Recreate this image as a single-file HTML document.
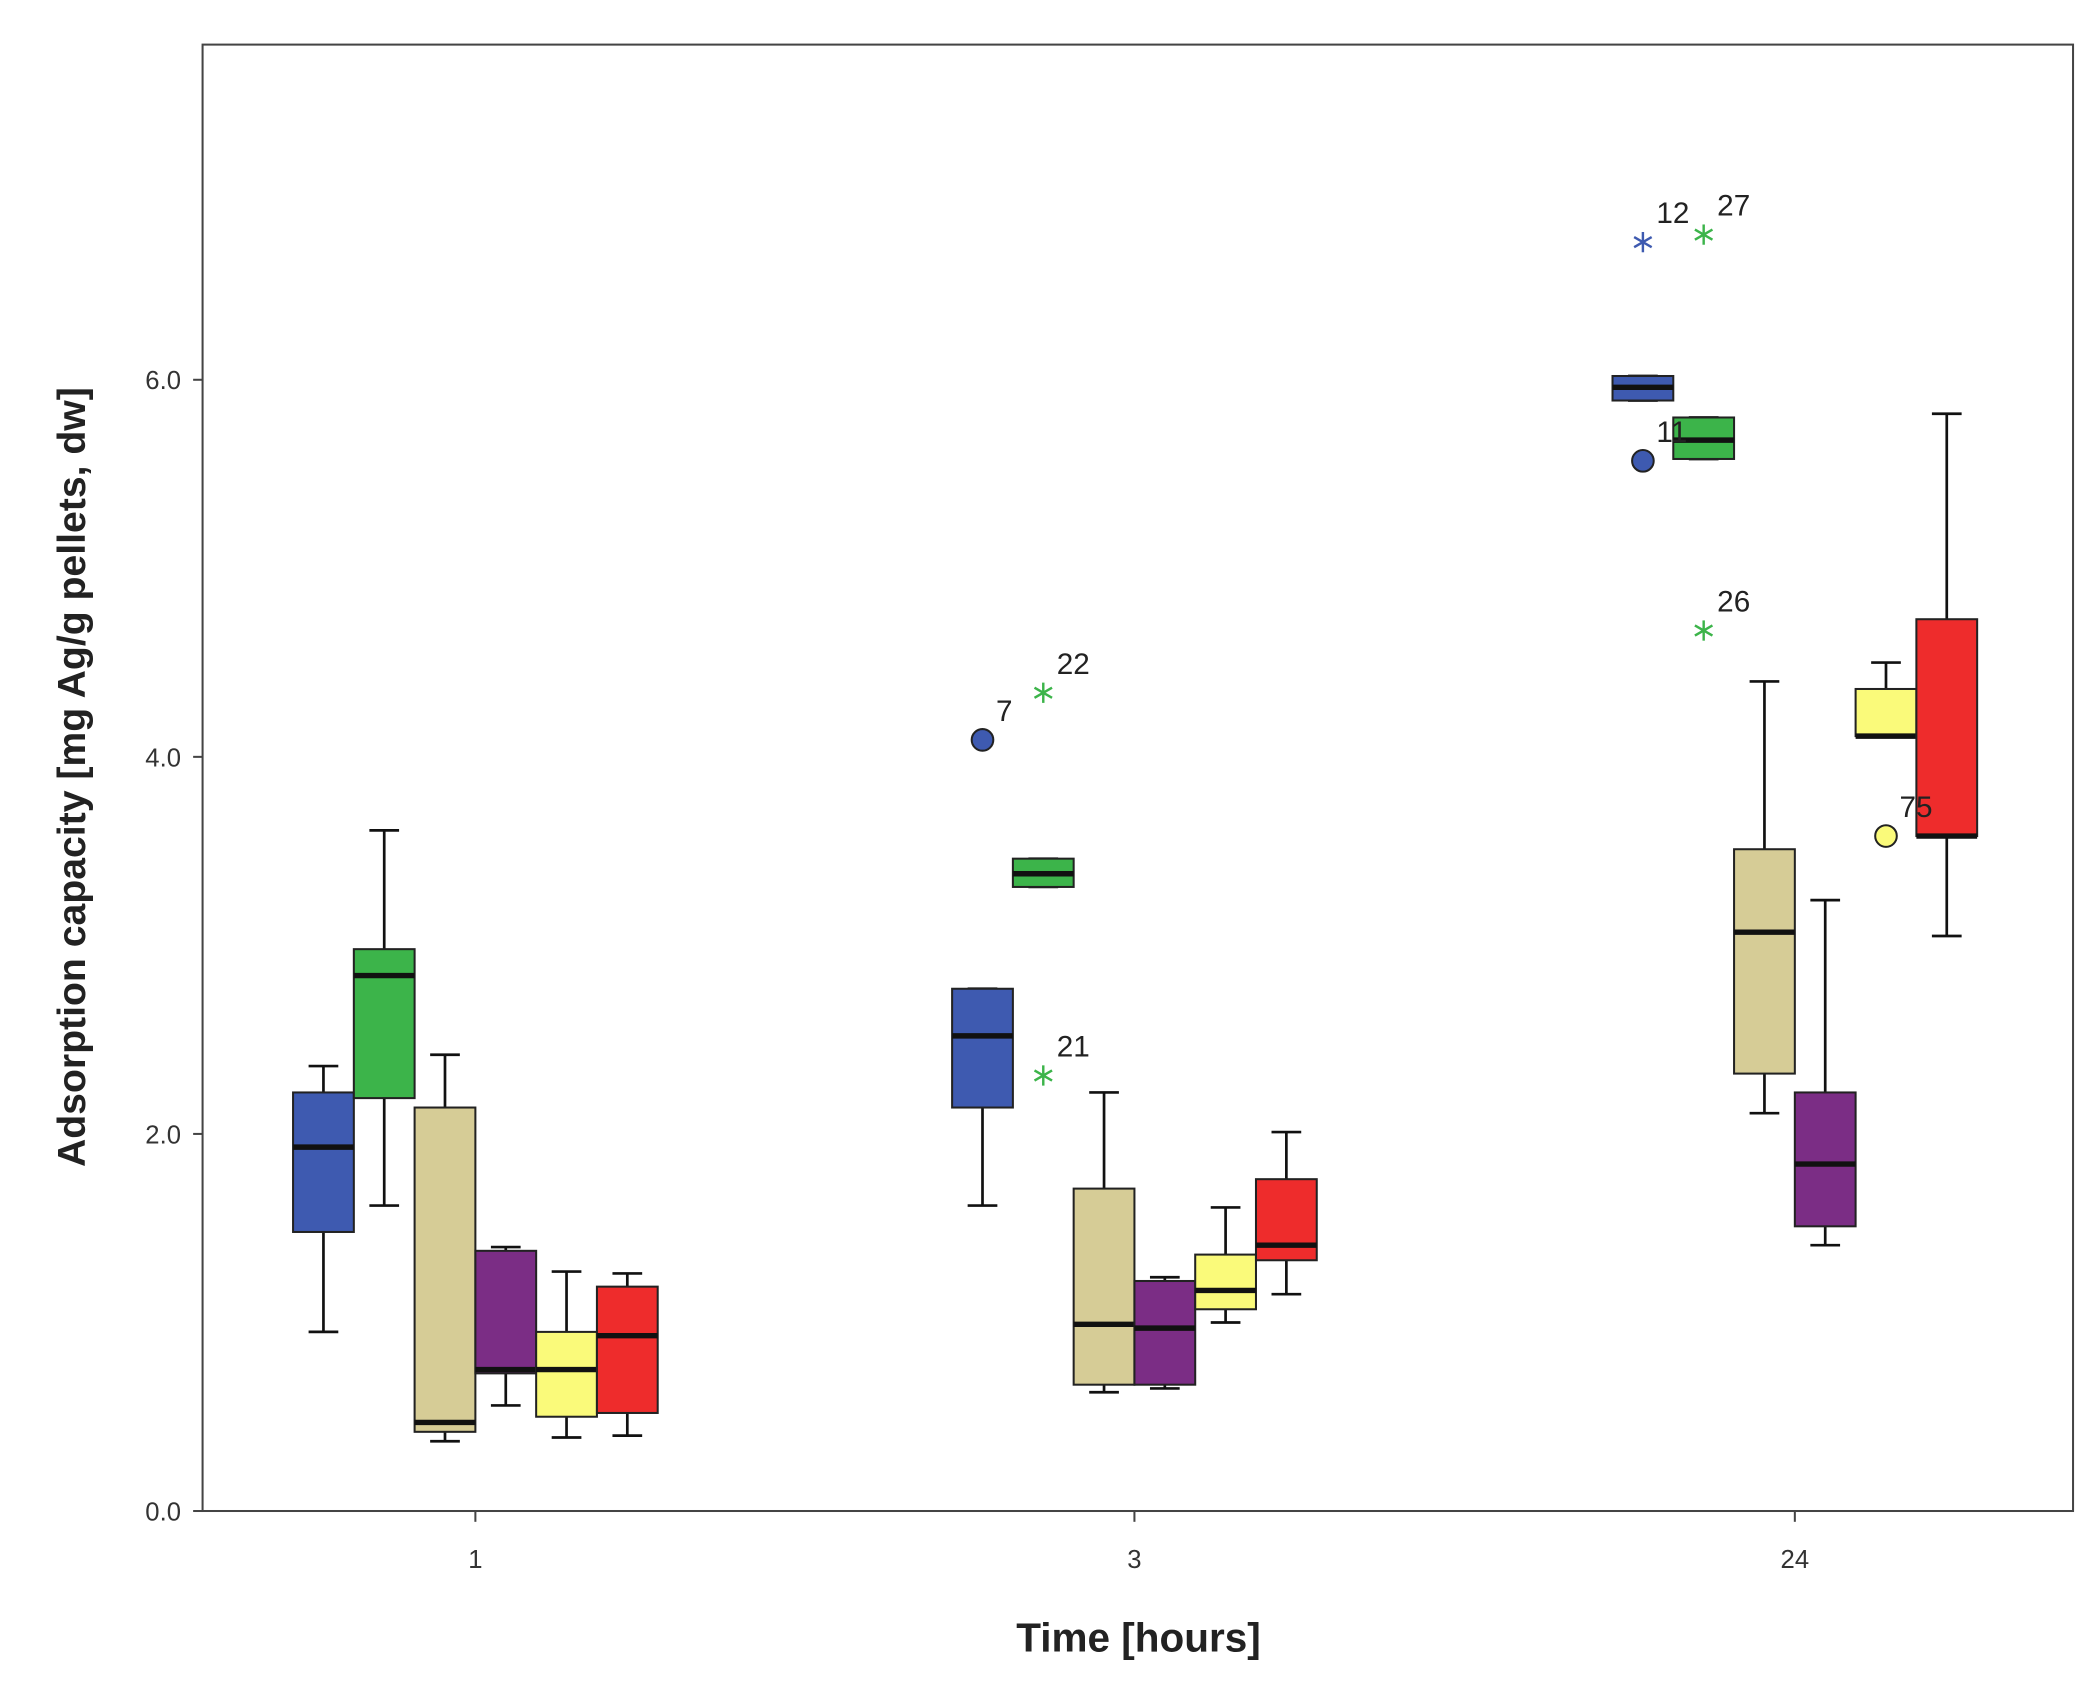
<!DOCTYPE html>
<html><head><meta charset="utf-8"><style>
html,body{margin:0;padding:0;background:#fff;}
svg{display:block;font-family:"Liberation Sans",Arial,sans-serif;}
</style></head><body>
<svg id="chart" width="2096" height="1684" viewBox="0 0 1552 1246" preserveAspectRatio="none" xmlns="http://www.w3.org/2000/svg">
<rect x="0" y="0" width="1552" height="1246" fill="#fff"/>
<rect x="150" y="33" width="1385" height="1085" fill="none" stroke="#444" stroke-width="1.5"/>
<g id="axes"></g>
<g id="boxes"></g>
<text transform="translate(63,575) rotate(-90)" text-anchor="middle" font-size="29" font-weight="bold" fill="#222">Adsorption capacity [mg Ag/g pellets, dw]</text>
<text x="843" y="1222" text-anchor="middle" font-size="30" font-weight="bold" fill="#222">Time [hours]</text>
</svg>
<script>
const categories = ["1","3","24"];
const seriesNames = ["s1","s2","s3","s4","s5","s6"];
const seriesColors = ["#3e5ab0","#3cb44a","#d6cc96","#7b2d85","#fafa7a","#ee2c2c"];
const yTicks = [0,2,4,6];
const yTickLabels = ["0.0","2.0","4.0","6.0"];
// [low, q1, median, q3, high] per category per series
const group1 = [[0.95,1.48,1.93,2.22,2.36],[1.62,2.19,2.84,2.98,3.61],[0.37,0.42,0.47,2.14,2.42],[0.56,0.73,0.75,1.38,1.40],[0.39,0.50,0.75,0.95,1.27],[0.40,0.52,0.93,1.19,1.26]];
const group3 = [[1.62,2.14,2.52,2.77,2.77],[3.31,3.31,3.38,3.46,3.46],[0.63,0.67,0.99,1.71,2.22],[0.65,0.67,0.97,1.22,1.24],[1.00,1.07,1.17,1.36,1.61],[1.15,1.33,1.41,1.76,2.01]];
const group24 = [[5.89,5.89,5.96,6.02,6.02],[5.58,5.58,5.68,5.80,5.80],[2.11,2.32,3.07,3.51,4.40],[1.41,1.51,1.84,2.22,3.24],[4.11,4.11,4.11,4.36,4.50],[3.05,3.58,3.58,4.73,5.82]];
const groups = [group1, group3, group24];
// outliers: [categoryIndex, seriesIndex, value, label, type]
const outliers = [[1,0,4.09,"7","circle"],[1,1,4.34,"22","star"],[1,1,2.31,"21","star"],[2,0,5.57,"11","circle"],[2,0,6.73,"12","star"],[2,1,6.77,"27","star"],[2,1,4.67,"26","star"],[2,4,3.58,"75","circle"]];

const NS="http://www.w3.org/2000/svg";
const y0=1118, yScale=139.5;
function yPos(v){return y0 - v*yScale;}
const catX=[352,840,1329];
const boxW=45, gap=45;
function xPos(ci,si){return catX[ci] + (si-2.5)*gap;}
function mk(tag,attrs,parent){const e=document.createElementNS(NS,tag);for(const k in attrs)e.setAttribute(k,attrs[k]);parent.appendChild(e);return e;}
const axes=document.getElementById('axes'), boxes=document.getElementById('boxes');
yTicks.forEach((t,i)=>{
  const l=mk('line',{x1:143,x2:150,y1:yPos(t),y2:yPos(t),stroke:'#444','stroke-width':1.5},axes);
  
  
  const tx=mk('text',{x:134,y:yPos(t)+7,'text-anchor':'end','font-size':19,fill:'#333'},axes);
  tx.textContent=yTickLabels[i];
  
  
});
categories.forEach((c,i)=>{
  const l=mk('line',{x1:catX[i],x2:catX[i],y1:1118,y2:1126,stroke:'#444','stroke-width':1.5},axes);
  
  
  const tx=mk('text',{x:catX[i],y:1160,'text-anchor':'middle','font-size':19,fill:'#333'},axes);
  tx.textContent=c;
  
  
});
groups.forEach((g,ci)=>{
  g.forEach((d,si)=>{
    const cx=xPos(ci,si);
    const grp=mk('g',{},boxes);
    
    
    const st={stroke:'#111','stroke-width':2};
    mk('line',Object.assign({x1:cx,x2:cx,y1:yPos(d[0]),y2:yPos(d[4])},st),grp);
    mk('line',Object.assign({x1:cx-11,x2:cx+11,y1:yPos(d[0]),y2:yPos(d[0])},st),grp);
    mk('line',Object.assign({x1:cx-11,x2:cx+11,y1:yPos(d[4]),y2:yPos(d[4])},st),grp);
    mk('rect',{x:cx-boxW/2,y:yPos(d[3]),width:boxW,height:Math.max(yPos(d[1])-yPos(d[3]),1),fill:seriesColors[si],stroke:'#222','stroke-width':1.5},grp);
    mk('line',{x1:cx-boxW/2,x2:cx+boxW/2,y1:yPos(d[2]),y2:yPos(d[2]),stroke:'#111','stroke-width':4},grp);
  });
});
outliers.forEach(o=>{
  const cx=xPos(o[0],o[1]), cy=yPos(o[2]);
  const grp=mk('g',{},boxes);
  
  
  if(o[4]==='circle'){
    mk('circle',{cx:cx,cy:cy,r:8,fill:seriesColors[o[1]],stroke:'#222','stroke-width':1.5},grp);
  } else {
    for(let a=0;a<3;a++){
      const ang=Math.PI/2+a*Math.PI/3, r=7.5;
      mk('line',{x1:cx-r*Math.cos(ang),y1:cy-r*Math.sin(ang),x2:cx+r*Math.cos(ang),y2:cy+r*Math.sin(ang),stroke:seriesColors[o[1]],'stroke-width':1.8},grp);
    }
  }
  const lb=mk('text',{x:cx+10,y:cy-14,'font-size':22,fill:'#222'},grp);
  lb.textContent=o[3];
});
</script>
</body></html>
